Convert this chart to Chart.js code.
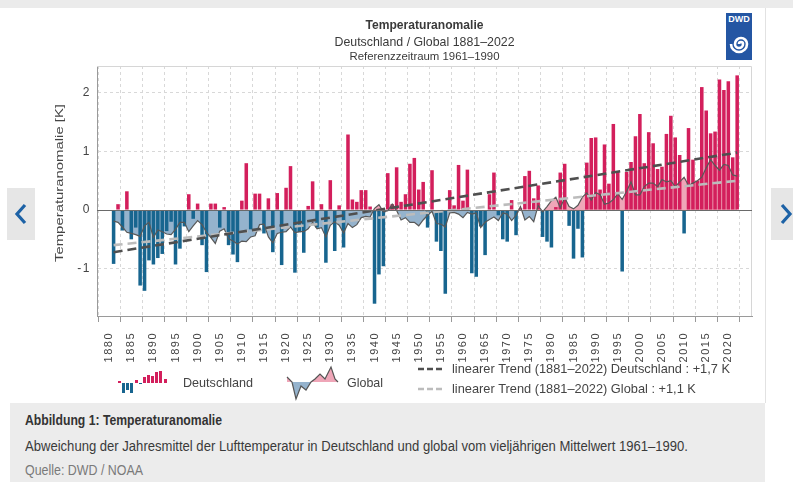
<!DOCTYPE html>
<html><head><meta charset="utf-8">
<script src="https://cdn.jsdelivr.net/npm/chart.js@4.4.1/dist/chart.umd.min.js"></script>
<style>
html,body{margin:0;padding:0;background:#fff;}
body{width:793px;height:482px;position:relative;overflow:hidden;font-family:'Liberation Sans',sans-serif;}
#topband{position:absolute;left:0;top:0;width:793px;height:8px;background:#ebebeb;}
#chartbox{position:absolute;left:22px;top:8px;width:743px;height:395px;}
#cardline{position:absolute;left:765px;top:8px;width:1px;height:395px;background:#e2e2e2;}
#caption{position:absolute;left:10px;top:403px;width:755px;height:79px;background:#ececec;}
#caption div{position:absolute;left:15px;white-space:nowrap;font-size:14px;line-height:18px;transform-origin:0 50%;}
#cap1{top:8px;font-weight:bold;color:#333;}
#cap2{top:34px;color:#3a3a3a;}
#cap3{top:58px;color:#7a7a7a;}
.arrow{position:absolute;top:188px;height:52px;background:#e6e6e6;}
#logo{position:absolute;left:726px;top:13px;width:26px;height:47px;background:#2456a3;}
#logo span{position:absolute;left:0;top:1px;width:26px;text-align:center;color:#fff;font:bold 9px 'Liberation Sans',sans-serif;}
</style></head>
<body>
<div id="topband"></div>
<div id="chartbox"><canvas id="c"></canvas></div>
<div id="cardline"></div>
<div class="arrow" style="left:7px;width:28px;"><svg width="28" height="52"><polyline points="18,17 10,26 18,35" fill="none" stroke="#1d62a6" stroke-width="3.2"/></svg></div>
<div class="arrow" style="left:771px;width:22px;"><svg width="22" height="52"><polyline points="11,17 19,26 11,35" fill="none" stroke="#1d62a6" stroke-width="3.2"/></svg></div>
<div id="logo"><span>DWD</span><svg width="26" height="47" style="position:absolute;left:0;top:0"><path d="M13,31 A2,2 0 0 1 17,31 A4,4 0 0 1 9,31 A6,6 0 0 1 21,31 A8,8 0 0 1 5,31" fill="none" stroke="#fff" stroke-width="2.6"/></svg></div>
<div id="caption">
<div id="cap1" data-w="197">Abbildung 1: Temperaturanomalie</div>
<div id="cap2" data-w="663">Abweichung der Jahresmittel der Lufttemperatur in Deutschland und global vom vieljährigen Mittelwert 1961–1990.</div>
<div id="cap3" data-w="118">Quelle: DWD / NOAA</div>
</div>
<script>
// ---- data ----
const titleLines = ['Temperaturanomalie', 'Deutschland / Global 1881–2022', 'Referenzzeitraum 1961–1990'];
const yAxisTitle = 'Temperaturanomalie [K]';
const years = [1881,1882,1883,1884,1885,1886,1887,1888,1889,1890,
1891,1892,1893,1894,1895,1896,1897,1898,1899,1900,
1901,1902,1903,1904,1905,1906,1907,1908,1909,1910,
1911,1912,1913,1914,1915,1916,1917,1918,1919,1920,
1921,1922,1923,1924,1925,1926,1927,1928,1929,1930,
1931,1932,1933,1934,1935,1936,1937,1938,1939,1940,
1941,1942,1943,1944,1945,1946,1947,1948,1949,1950,
1951,1952,1953,1954,1955,1956,1957,1958,1959,1960,
1961,1962,1963,1964,1965,1966,1967,1968,1969,1970,
1971,1972,1973,1974,1975,1976,1977,1978,1979,1980,
1981,1982,1983,1984,1985,1986,1987,1988,1989,1990,
1991,1992,1993,1994,1995,1996,1997,1998,1999,2000,
2001,2002,2003,2004,2005,2006,2007,2008,2009,2010,
2011,2012,2013,2014,2015,2016,2017,2018,2019,2020,
2021,2022];
const deutschland = [-0.92,0.10,-0.35,0.32,-0.50,-0.30,-1.29,-1.38,-0.86,-0.93,
-0.82,-0.75,-0.36,-0.20,-0.93,-0.66,-0.28,0.27,-0.15,0.11,
-0.60,-1.06,0.11,0.11,-0.30,0.05,-0.60,-0.76,-0.89,0.16,
0.80,-0.33,0.28,0.28,-0.40,0.20,-0.72,0.29,-0.94,0.38,
0.75,-1.07,-0.38,-0.73,0.07,0.49,-0.30,0.10,-0.90,0.51,
-0.70,0.08,-0.64,1.29,0.18,0.14,0.34,0.34,0.06,-1.60,
-1.10,-0.96,0.63,0.10,0.73,0.14,0.27,0.79,0.89,0.35,
0.48,-0.30,0.68,-0.54,-0.70,-1.43,0.34,0.08,0.77,0.16,
0.69,-1.08,-1.14,-0.28,-0.77,0.27,0.64,-0.09,-0.50,-0.54,
0.17,-0.43,0.03,0.58,0.67,0.20,0.42,-0.46,-0.54,-0.64,
0.05,0.64,0.79,-0.27,-0.83,-0.32,-0.81,0.81,1.23,1.24,
0.35,1.12,0.45,1.47,0.65,-1.05,0.65,0.82,1.26,1.64,
0.80,1.33,1.14,0.70,0.74,1.30,1.61,1.24,0.94,-0.40,
1.40,0.86,0.50,2.10,1.70,1.31,1.34,2.23,2.05,2.20,
0.90,2.30];
const global = [-0.19,-0.21,-0.29,-0.38,-0.40,-0.42,-0.45,-0.27,-0.21,-0.47,
-0.34,-0.37,-0.41,-0.42,-0.33,-0.21,-0.21,-0.37,-0.27,-0.18,
-0.25,-0.38,-0.47,-0.57,-0.36,-0.32,-0.49,-0.53,-0.58,-0.53,
-0.54,-0.46,-0.44,-0.25,-0.24,-0.46,-0.56,-0.40,-0.38,-0.37,
-0.29,-0.39,-0.37,-0.37,-0.32,-0.21,-0.32,-0.30,-0.46,-0.26,
-0.20,-0.26,-0.39,-0.23,-0.30,-0.25,-0.13,-0.11,-0.12,0.03,
0.09,-0.03,-0.01,0.10,-0.01,-0.17,-0.13,-0.21,-0.21,-0.27,
-0.17,-0.09,-0.02,-0.23,-0.24,-0.29,-0.05,-0.04,-0.07,-0.13,
-0.04,-0.07,-0.05,-0.30,-0.21,-0.16,-0.12,-0.18,-0.05,-0.07,
-0.18,-0.09,0.06,-0.17,-0.11,-0.20,0.08,-0.03,0.06,0.16,
0.22,0.04,0.21,0.06,0.02,0.08,0.22,0.29,0.17,0.30,
0.26,0.10,0.12,0.18,0.28,0.18,0.32,0.48,0.26,0.26,
0.40,0.46,0.46,0.40,0.52,0.48,0.50,0.40,0.48,0.56,
0.42,0.46,0.50,0.56,0.72,0.86,0.76,0.68,0.78,0.76,
0.60,0.58];
const trendYears = [1881, 2022];
const trendDeutschland = [-0.72, 0.98];
const trendGlobal = [-0.60, 0.50];
const xTickStep = 5;
const legendLabels = ['Deutschland', 'Global', 'linearer Trend (1881–2022) Deutschland : +1,7 K', 'linearer Trend (1881–2022) Global : +1,1 K'];

// ---- styles ----
const F = "'Liberation Sans',sans-serif";
const RED = '#d31f5c', BLUE = '#17658f', AREA_PINK = '#efa6b8', AREA_BLUE = '#95b3cd';
const LINE_DARK = '#4f4f4f', LINE_LIGHT = '#bcbcbc';

const pts = (xs, ys) => xs.map((x, i) => ({x, y: ys[i]}));

function fitText(ctx, text, x, y, targetW, align) {
  const w = ctx.measureText(text).width;
  const k = targetW / w;
  ctx.save();
  ctx.translate(x, y); ctx.scale(k, 1);
  ctx.textAlign = align;
  ctx.fillText(text, 0, 0);
  ctx.restore();
}

const framePlugin = {
  id: 'frame',
  beforeDraw(chart) { chart.ctx.letterSpacing = '1.5px'; },
  beforeDatasetsDraw(chart) {
    const {ctx, chartArea: a} = chart;
    ctx.letterSpacing = '0px';
    ctx.save();
    ctx.strokeStyle = '#d6d6d6'; ctx.lineWidth = 1;
    ctx.beginPath();
    ctx.moveTo(a.left, a.top + 0.5); ctx.lineTo(a.right - 0.5, a.top + 0.5); ctx.lineTo(a.right - 0.5, a.bottom);
    ctx.stroke();
    ctx.restore();
  },
  afterDatasetsDraw(chart) {
    const {ctx, chartArea: a, scales} = chart;
    const y0 = Math.round(scales.y.getPixelForValue(0)) + 0.5;
    ctx.save();
    ctx.strokeStyle = '#6a6a6a'; ctx.lineWidth = 1;
    ctx.beginPath(); ctx.moveTo(a.left, y0); ctx.lineTo(a.right, y0); ctx.stroke();
    ctx.restore();
  },
  afterDraw(chart) {
    const {ctx, chartArea: a} = chart;
    ctx.save();
    ctx.letterSpacing = '0px';
    const cx = (a.left + a.right) / 2;
    ctx.fillStyle = '#3a3a3a'; ctx.textBaseline = 'middle';
    ctx.font = `bold 13px ${F}`; fitText(ctx, titleLines[0], cx, 17, 118, 'center');
    ctx.font = `13px ${F}`; fitText(ctx, titleLines[1], cx, 34, 180, 'center');
    ctx.font = `11.5px ${F}`; fitText(ctx, titleLines[2], cx, 49, 150, 'center');
    ctx.save();
    ctx.translate(38, 254); ctx.rotate(-Math.PI / 2);
    ctx.font = `11.5px ${F}`; ctx.fillStyle = '#444';
    fitText(ctx, yAxisTitle, 0, 0, 158, 'left');
    ctx.restore();
    ctx.font = `13px ${F}`; ctx.fillStyle = '#444';
    const bx = 96, by = 375;
    const icon = [[0,2],[4,-10],[8,-7],[12,-10],[17,3],[21,-1],[25,6],[29,8],[33,7],[37,11],[41,12],[46,4]];
    icon.forEach(([dx, h]) => { ctx.fillStyle = h >= 0 ? RED : BLUE; ctx.fillRect(bx + dx, h >= 0 ? by - h : by, 3, Math.abs(h)); });
    ctx.fillStyle = '#444';
    fitText(ctx, legendLabels[0], 161, 375, 70, 'left');
    const gp = [[265,369],[270,374],[274,391],[279,378],[284,382],[289,374],[293,371],[298,366],[303,371],[309,359],[313,371],[316,374]];
    const gy = 374;
    const poly = () => { ctx.beginPath(); ctx.moveTo(gp[0][0], gy); gp.forEach(p => ctx.lineTo(p[0], p[1])); ctx.lineTo(gp[gp.length-1][0], gy); ctx.closePath(); };
    ctx.save(); ctx.beginPath(); ctx.rect(260, 340, 70, gy - 340); ctx.clip(); poly(); ctx.fillStyle = AREA_PINK; ctx.fill(); ctx.restore();
    ctx.save(); ctx.beginPath(); ctx.rect(260, gy, 70, 40); ctx.clip(); poly(); ctx.fillStyle = AREA_BLUE; ctx.fill(); ctx.restore();
    ctx.beginPath(); gp.forEach((p, i) => i ? ctx.lineTo(p[0], p[1]) : ctx.moveTo(p[0], p[1]));
    ctx.strokeStyle = '#555'; ctx.lineWidth = 1.2; ctx.stroke();
    ctx.fillStyle = '#444';
    fitText(ctx, legendLabels[1], 325, 375, 36, 'left');
    ctx.lineWidth = 2.5; ctx.setLineDash([6, 3]);
    ctx.strokeStyle = LINE_DARK; ctx.beginPath(); ctx.moveTo(396, 361); ctx.lineTo(420, 361); ctx.stroke();
    ctx.strokeStyle = LINE_LIGHT; ctx.beginPath(); ctx.moveTo(396, 381); ctx.lineTo(420, 381); ctx.stroke();
    ctx.setLineDash([]);
    const k = 278 / ctx.measureText(legendLabels[2]).width;
    fitText(ctx, legendLabels[2], 430, 361, 278, 'left');
    fitText(ctx, legendLabels[3], 430, 381, ctx.measureText(legendLabels[3]).width * k, 'left');
    ctx.restore();
  }
};

new Chart(document.getElementById('c'), {
  data: {
    datasets: [
      { type: 'line', label: 'Global-Fläche', data: pts(years, global), order: 4,
        borderWidth: 0, pointRadius: 0, tension: 0,
        fill: { target: { value: 0 }, above: AREA_PINK, below: AREA_BLUE } },
      { type: 'bar', label: 'Deutschland', data: pts(years, deutschland), order: 3,
        backgroundColor: c => (c.raw && c.raw.y >= 0) ? RED : BLUE,
        categoryPercentage: 0.8, barPercentage: 1, borderWidth: 0 },
      { type: 'line', label: 'Global', data: pts(years, global), order: 2,
        borderColor: '#585858', borderWidth: 1.2, pointRadius: 0, fill: false, tension: 0 },
      { type: 'line', label: 'Trend Deutschland', data: pts(trendYears, trendDeutschland), order: 1,
        borderColor: LINE_DARK, borderWidth: 2.6, borderDash: [9, 5], pointRadius: 0, fill: false },
      { type: 'line', label: 'Trend Global', data: pts(trendYears, trendGlobal), order: 1,
        borderColor: LINE_LIGHT, borderWidth: 2.6, borderDash: [9, 5], pointRadius: 0, fill: false }
    ]
  },
  options: {
    responsive: true, maintainAspectRatio: false, animation: false,
    layout: { padding: { top: 58, right: 13, left: 0, bottom: 0 } },
    plugins: { legend: { display: false }, tooltip: { enabled: false }, title: { display: false } },
    scales: {
      x: {
        type: 'linear', min: 1879.8, max: 2022.8,
        afterFit: s => { s.height = 87; },
        ticks: { stepSize: xTickStep, includeBounds: false, autoSkip: false, maxRotation: 90, minRotation: 90,
          padding: 10, color: '#444', font: { size: 11, family: F },
          callback: v => String(v) },
        grid: { color: '#d8d8d8', borderDash: [3, 3], tickLength: 6, tickColor: '#999', tickBorderDash: [] },
        border: { color: '#9a9a9a', width: 1, dash: [3, 3] }
      },
      y: {
        min: -1.81, max: 2.46,
        afterFit: s => { s.width = 75; },
        ticks: { stepSize: 1, includeBounds: false, padding: 6, color: '#444', font: { size: 12, family: F } },
        grid: { color: c => c.tick && c.tick.value === 0 ? 'rgba(0,0,0,0)' : '#d8d8d8', borderDash: [3, 3], drawTicks: false },
        border: { color: '#9a9a9a', width: 1, dash: [3, 3] }
      }
    }
  },
  plugins: [framePlugin]
});

document.querySelectorAll('#caption div').forEach(el => {
  const w = el.getBoundingClientRect().width;
  el.style.transform = `scaleX(${(+el.dataset.w) / w})`;
});
</script>
</body></html>
